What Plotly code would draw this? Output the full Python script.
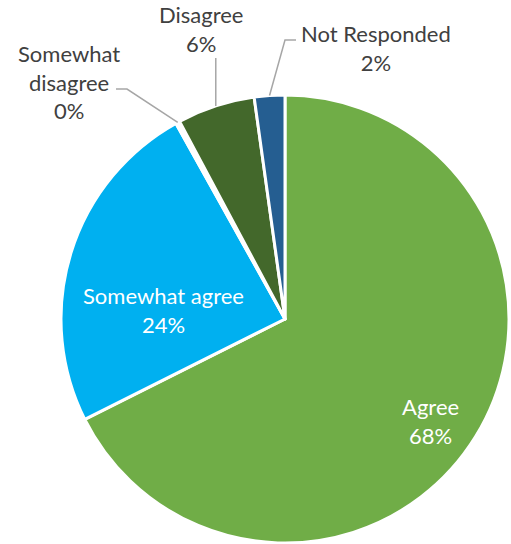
import math
import plotly.graph_objects as go

# Survey responses
labels = ["Agree", "Somewhat agree", "Somewhat disagree", "Disagree", "Not Responded"]
values = [67.6, 24.3, 0.3, 5.6, 2.2]
colors = ["#70AD47", "#00B0F0", "#FFFFFF", "#43682B", "#255E91"]

W, H = 511, 544
CX, CY, R = 285, 319, 224  # pie centre / radius in pixels

def px(x):
    return x / W

def py(y):
    return 1 - y / H

FONT = "Lato"
SIZE = 22
TXT = "#404040"

fig = go.Figure(go.Pie(
    labels=labels,
    values=values,
    sort=False,
    direction="clockwise",
    rotation=0,
    marker=dict(colors=colors, line=dict(color="white", width=3)),
    textinfo="none",
    hoverinfo="label+percent",
    showlegend=False,
    domain=dict(x=[px(CX - R), px(CX + R)], y=[py(CY + R), py(CY - R)]),
))

total = sum(values)
pct = [round(v / total * 100) for v in values]

# Mid-angle (clockwise from 12 o'clock) of each slice
mid = []
acc = 0.0
for v in values:
    mid.append((acc + v / 2) / total * 2 * math.pi)
    acc += v

def edge(i):
    a = mid[i]
    return CX + R * math.sin(a), CY - R * math.cos(a)

annotations = []
shapes = []

# Labels drawn inside the two large slices
inside = [(0, (430, 421)), (1, (163, 310))]
for i, (tx, ty) in inside:
    annotations.append(dict(
        x=px(tx), y=py(ty), xref="paper", yref="paper", showarrow=False,
        text=f"{labels[i]}<br>{pct[i]}%",
        font=dict(family=FONT, size=SIZE, color="white"),
        align="center", xanchor="center", yanchor="middle",
    ))

# Outside labels with leader lines: (slice, text centre, elbow points)
outside = [
    (2, "Somewhat<br>disagree", (69, 82), [(127, 89), (116, 89)]),
    (3, "Disagree", (201, 29), ["up"]),
    (4, "Not Responded", (376, 48), [(285, 40), (296, 40)]),
]
for i, name, (tx, ty), elbows in outside:
    sx, sy = edge(i)
    pts = [(sx, sy)]
    for e in elbows:
        pts.append((sx, 58) if e == "up" else e)
    path = "M " + " L ".join(f"{px(x)},{py(y)}" for x, y in pts)
    shapes.append(dict(type="path", xref="paper", yref="paper", path=path,
                       line=dict(color="#A6A6A6", width=1.5)))
    annotations.append(dict(
        x=px(tx), y=py(ty), xref="paper", yref="paper", showarrow=False,
        text=f"{name}<br>{pct[i]}%",
        font=dict(family=FONT, size=SIZE, color=TXT),
        align="center", xanchor="center", yanchor="middle",
    ))

fig.update_layout(
    width=W, height=H,
    margin=dict(l=0, r=0, t=0, b=0),
    paper_bgcolor="white",
    plot_bgcolor="white",
    shapes=shapes,
    annotations=annotations,
)

fig.write_html("out.html")
